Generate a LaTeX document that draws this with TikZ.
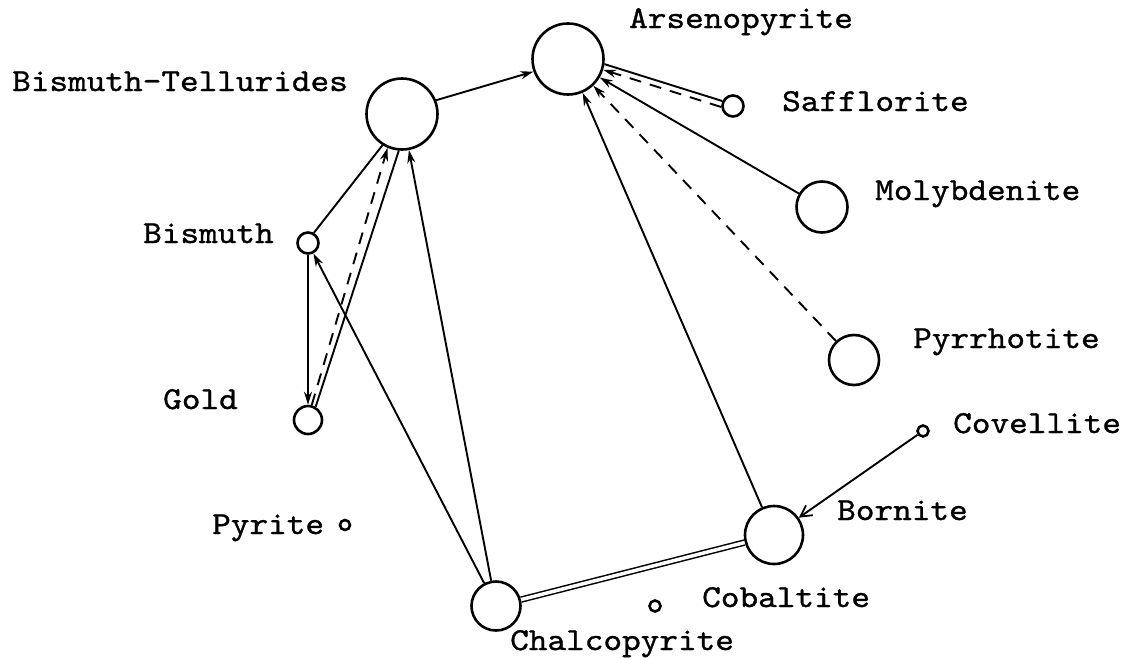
\documentclass[tikz,border=0pt]{standalone}
\usepackage{fontspec}
\usetikzlibrary{arrows.meta}
\newfontfamily\twfont[FakeStretch=1.11,FakeBold=1.0]{lmmono10-regular.otf}
\newcommand{\lbfont}{\twfont\fontsize{32}{32}\selectfont}
\begin{document}
\begin{tikzpicture}[x=1pt,y=-1pt,
  mineral/.style={circle,draw,line width=2.6pt,inner sep=0pt,minimum size=#1},
  lbl/.style={anchor=base west,inner sep=0pt,font=\lbfont},
  ln/.style={line width=1.9pt},
  dsh/.style={dash pattern=on 12pt off 9pt},
  arr/.style={-{Stealth[length=13pt,width=8pt]}},
  barb/.style={-{Straight Barb[length=11pt,width=12pt,line width=1.8pt]}}]
\useasboundingbox (0,0) rectangle (1133,657);

% minerals
\node[mineral=71pt] (ars) at (568,59) {};
\node[mineral=71pt] (bt) at (402,114) {};
\node[mineral=21pt] (saf) at (733,106) {};
\node[mineral=51pt] (mol) at (822,207) {};
\node[mineral=50pt] (pyr) at (854,360) {};
\node[mineral=21pt] (bis) at (308,243) {};
\node[mineral=28pt] (gold) at (308,420) {};
\node[mineral=49pt] (cha) at (496,606) {};
\node[mineral=58pt] (bor) at (774,535) {};
\node[mineral=11pt] (cov) at (923,431) {};
\node[mineral=11pt] (cob) at (655,606) {};
\node[mineral=10pt] (pyrite) at (345,525) {};

% labels
\node[lbl] (arsl) at (629,28) {Arsenopyrite};
\node[lbl] (btl) at (12,91) {Bismuth-Tellurides};
\node[lbl] (safl) at (782,111) {Safflorite};
\node[lbl] (moll) at (875,200) {Molybdenite};
\node[lbl] (pyrl) at (913,348) {Pyrrhotite};
\node[lbl] (covl) at (953,433) {Covellite};
\node[lbl] (borl) at (837,520) {Bornite};
\node[lbl] (cobl) at (702,607) {Cobaltite};
\node[lbl] (chal) at (510,650) {Chalcopyrite};
\node[lbl] (bisl) at (143,243) {Bismuth};
\node[lbl] (goldl) at (163,409) {Gold};
\node[lbl] (pyritel) at (212,534) {Pyrite};

% connectors
\draw[ln,arr] (bt.22) -- (ars.200);
\draw[ln] (saf.155) -- (ars.-8);
\draw[ln,dsh,arr] (saf.185) -- (ars.-17);
\draw[ln,arr] (mol) -- (ars);
\draw[ln,dsh,arr] (pyr) -- (ars);
\draw[ln,arr] (bor) -- (ars);
\draw[ln,barb] (cov) -- (bor);
\draw[line width=1.5pt,double,double distance=3.5pt] (cha) -- (bor);
\draw[ln,arr] (cha) -- (bt);
\draw[ln,arr] (cha) -- (bis);
\draw[ln] (bis.60) -- (bt.238);
\draw[ln,dsh,arr] (gold.76) -- (bt.247);
\draw[ln] (gold.60) -- (bt.265);
\draw[ln,arr] (bis.south) -- (gold.north);
\end{tikzpicture}
\end{document}
